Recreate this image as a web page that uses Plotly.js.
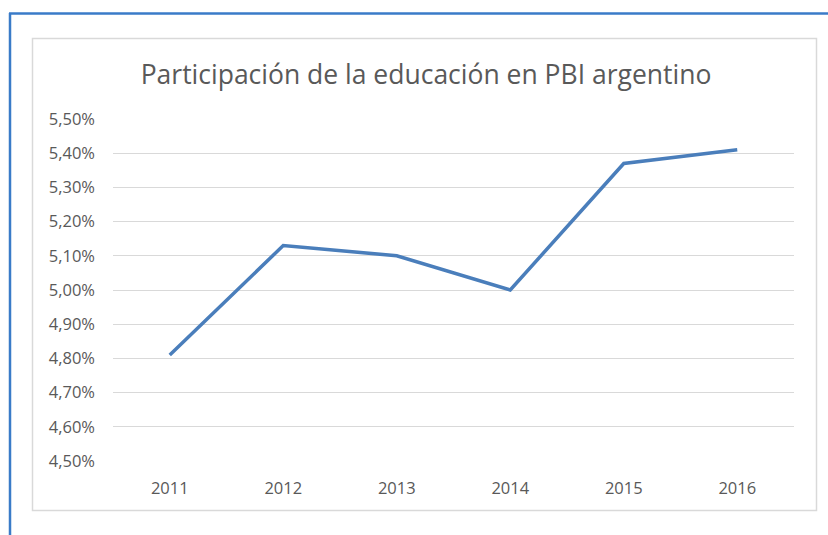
<!DOCTYPE html>
<html>
<head>
<meta charset="utf-8">
<script src="https://cdn.plot.ly/plotly-3.0.1.min.js"></script>
<style>html,body{margin:0;padding:0;background:#fff;}#chart{width:828px;height:535px;}</style>
</head>
<body>
<div id="chart"></div>
<script>
const years = ['2011', '2012', '2013', '2014', '2015', '2016'];
const share = [4.81, 5.13, 5.10, 5.00, 5.37, 5.41];
const yTicks = [4.5, 4.6, 4.7, 4.8, 4.9, 5.0, 5.1, 5.2, 5.3, 5.4, 5.5];
const yTickText = yTicks.map(v => v.toFixed(2).replace('.', ',') + '%');
const chartTitle = 'Participación de la educación en PBI argentino';

const W = 828, H = 535;
const L = 113, R = 794, T = 119, B = 461;
const pw = R - L, ph = B - T;
const px = x => (x - L) / pw;
const py = y => (B - y) / ph;

const trace = {
  x: years,
  y: share,
  type: 'scatter',
  mode: 'lines',
  line: {color: '#4a7ebb', width: 3.5},
  hoverinfo: 'x+y'
};

const layout = {
  width: W, height: H,
  margin: {l: L, r: W - R, t: T, b: H - B, pad: 0},
  paper_bgcolor: '#ffffff',
  plot_bgcolor: '#ffffff',
  separators: ',.',
  showlegend: false,
  font: {family: 'Open Sans, sans-serif', color: '#595959'},
  title: {
    text: chartTitle,
    font: {family: 'Open Sans, sans-serif', size: 26.5, color: '#595959'},
    x: 426 / W, xref: 'container', xanchor: 'center',
    y: 1 - 75 / H, yref: 'container', yanchor: 'middle'
  },
  xaxis: {
    type: 'category',
    range: [-0.5, 5.5],
    showgrid: false,
    zeroline: false,
    showline: false,
    ticks: '',
    tickfont: {size: 16.5, color: '#595959'},
    ticklabelstandoff: 15,
    fixedrange: true
  },
  yaxis: {
    range: [4.5, 5.5],
    tickmode: 'array',
    tickvals: yTicks,
    ticktext: yTickText,
    showgrid: true,
    gridcolor: '#d9d9d9',
    gridwidth: 1,
    zeroline: false,
    showline: false,
    ticks: '',
    tickfont: {size: 16.5, color: '#595959'},
    ticklabelstandoff: 17,
    fixedrange: true
  },
  shapes: [
    {type: 'rect', xref: 'paper', yref: 'paper',
     x0: px(32.5), x1: px(816.5), y0: py(510.5), y1: py(38.5),
     line: {color: '#d9d9d9', width: 1.5}, layer: 'below'},
    {type: 'line', xref: 'paper', yref: 'paper',
     x0: px(10), x1: px(10), y0: py(13), y1: py(545),
     line: {color: '#3a7bc8', width: 2.5}},
    {type: 'line', xref: 'paper', yref: 'paper',
     x0: px(9), x1: px(840), y0: py(13.5), y1: py(13.5),
     line: {color: '#3a7bc8', width: 2.5}}
  ]
};

Plotly.newPlot('chart', [trace], layout, {displayModeBar: false, staticPlot: true});
</script>
</body>
</html>
